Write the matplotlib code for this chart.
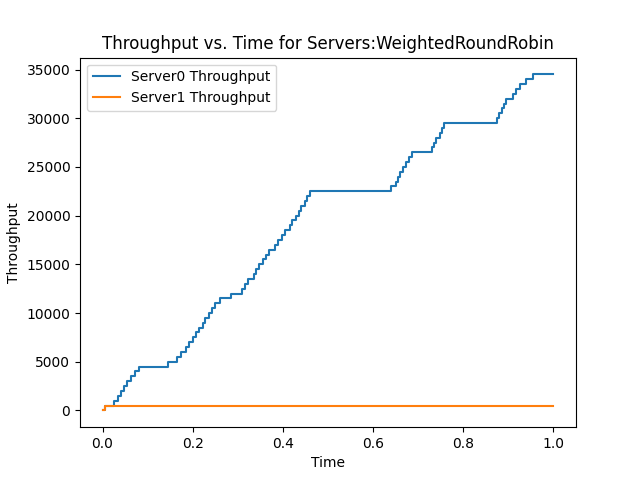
import matplotlib
matplotlib.use("Agg")
import matplotlib.pyplot as plt

# step times (each step adds 500 to throughput)
s0_times = [0.0, 0.005, 0.025, 0.035, 0.04, 0.048, 0.055, 0.062, 0.072, 0.08,
            0.145, 0.165, 0.175, 0.185, 0.192, 0.2, 0.207, 0.215, 0.222, 0.228,
            0.235, 0.242, 0.25, 0.26, 0.285, 0.31, 0.315, 0.322, 0.335, 0.34,
            0.348, 0.355, 0.362, 0.37, 0.382, 0.39, 0.397, 0.405, 0.415, 0.42,
            0.428, 0.435, 0.44, 0.448, 0.453, 0.46,
            0.64, 0.65, 0.655, 0.66, 0.667, 0.672, 0.68, 0.687,
            0.73, 0.735, 0.74, 0.748, 0.752, 0.758,
            0.875, 0.88, 0.885, 0.89, 0.895, 0.91, 0.917, 0.925, 0.94, 0.955, 1.0]
s0_values = [500 * i for i in range(len(s0_times) - 1)] + [34500]

s1_times = [0.0, 0.005, 1.0]
s1_values = [0, 500, 500]

fig, ax = plt.subplots(figsize=(6.4, 4.8), dpi=100)
ax.plot(s0_times, s0_values, drawstyle="steps-post", label="Server0 Throughput")
ax.plot(s1_times, s1_values, drawstyle="steps-post", label="Server1 Throughput")
ax.set_xlabel("Time")
ax.set_ylabel("Throughput")
ax.set_title("Throughput vs. Time for Servers:WeightedRoundRobin")
ax.legend(loc="upper left")
fig.savefig("out.png")
